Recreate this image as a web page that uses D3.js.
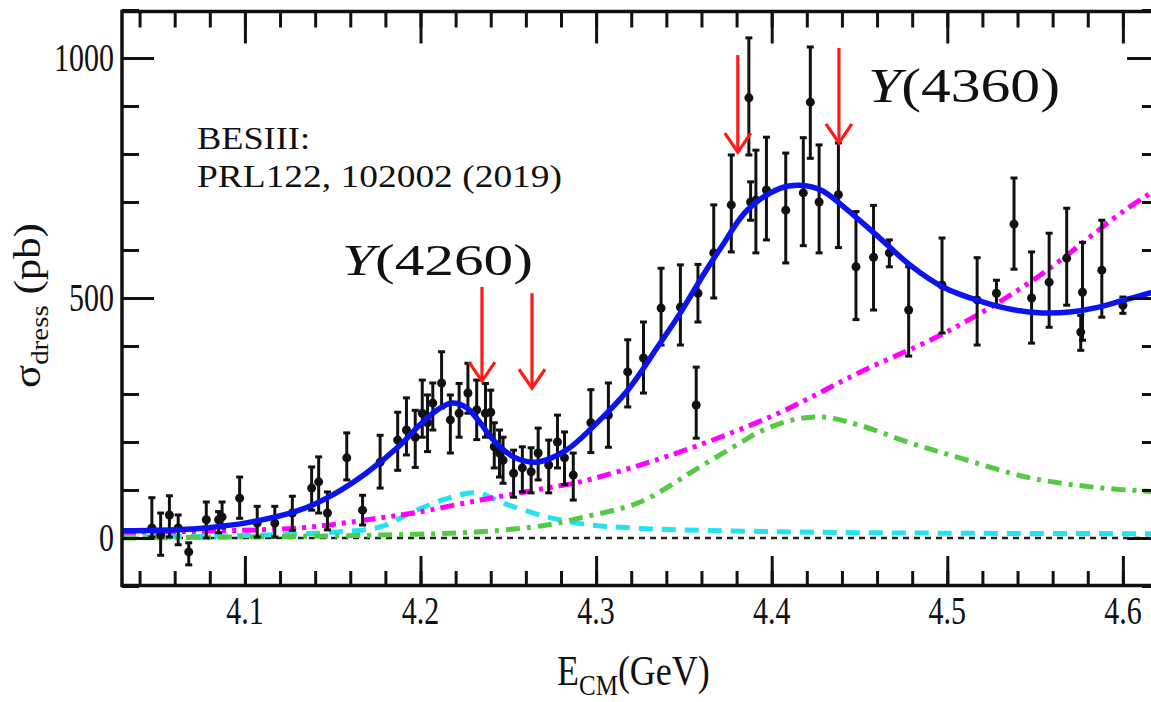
<!DOCTYPE html>
<html>
<head>
<meta charset="utf-8">
<script src="https://cdn.jsdelivr.net/npm/d3@7"></script>
<style>
  body { margin: 0; background: #fff; }
  svg { display: block; }
  text { font-family: "Liberation Serif", "Times New Roman", serif; fill: #111; }
</style>
</head>
<body>
<svg id="chart" width="1151" height="702"></svg>
<script>
// ---- measured cross sections (E_CM in GeV, sigma in pb, asymmetric errors) ----
const energy = [4.047,4.052,4.057,4.062,4.068,4.078,4.085,4.087,4.097,4.107,4.117,4.127,4.138,4.142,4.147,4.158,4.167,4.177,4.187,4.192,4.197,4.201,4.204,4.207,4.212,4.217,4.222,4.227,4.232,4.237,4.240,4.242,4.245,4.247,4.253,4.258,4.263,4.267,4.273,4.278,4.282,4.287,4.297,4.307,4.318,4.327,4.337,4.348,4.357,4.358,4.367,4.377,4.387,4.388,4.391,4.397,4.408,4.418,4.422,4.427,4.438,4.448,4.458,4.467,4.478,4.497,4.517,4.528,4.538,4.548,4.558,4.568,4.576,4.577,4.588,4.600];
const sigma  = [21,6,48,21,-29,38,38,44,83,31,31,52,104,117,52,167,58,158,204,225,210,260,240,281,323,246,260,302,267,260,262,190,177,162,135,146,138,177,152,200,167,131,240,256,346,375,479,481,277,510,594,694,917,700,704,725,683,719,908,700,715,565,585,594,475,527,496,510,654,500,533,583,429,512,558,485];
const errUp  = [63,46,40,27,19,37,17,31,44,35,35,35,44,52,44,52,31,56,58,67,56,69,58,42,65,52,62,62,62,62,46,50,48,48,48,44,50,52,52,56,54,46,69,67,67,75,83,88,79,60,100,104,125,42,104,110,119,115,115,119,108,115,108,27,90,98,88,27,96,96,102,104,35,104,104,17];
const errDn  = [19,42,46,35,27,38,27,23,42,29,29,36,46,65,35,46,31,54,63,52,63,50,60,56,52,69,50,42,62,50,48,44,50,48,50,50,44,56,58,54,56,52,62,67,73,73,77,79,69,60,94,98,119,38,110,104,110,110,117,106,110,110,110,29,96,100,94,25,94,94,94,98,38,100,98,17];

// ---- fit curves ----
const totalE = [4.030,4.074,4.103,4.131,4.150,4.169,4.188,4.200,4.210,4.218,4.226,4.234,4.241,4.253,4.266,4.283,4.298,4.318,4.335,4.348,4.361,4.372,4.386,4.405,4.416,4.428,4.441,4.460,4.479,4.498,4.520,4.537,4.554,4.570,4.585,4.600,4.620];
const totalS = [15,20,33,58,90,135,192,237,268,281,272,240,206,169,158,183,231,308,398,469,548,610,683,729,735,725,690,630,568,522,492,476,469,471,480,495,515];

const y4220E = [4.030,4.100,4.150,4.177,4.196,4.215,4.232,4.249,4.272,4.291,4.325,4.405,4.500,4.620];
const y4220S = [2,5,12,23,55,82,94,70,44,30,20,13,10,9];

const contE = [4.030,4.131,4.177,4.196,4.234,4.272,4.291,4.325,4.359,4.405,4.450,4.500,4.550,4.600,4.620];
const contS = [12,21,42,52,79,104,117,152,194,262,345,430,540,680,728];

const y4360E = [4.030,4.177,4.234,4.272,4.291,4.325,4.359,4.382,4.393,4.412,4.429,4.450,4.479,4.507,4.545,4.583,4.620];
const y4360S = [0,6,13,27,42,75,148,198,221,246,252,235,198,167,127,106,96];

// ---- markers for resonance windows ----
const arrowE   = [4.235, 4.2635, 4.3807, 4.4383];
const arrowTop = [523, 510, 1006, 1021];
const arrowTip = [327, 312, 804, 823];

// ---- tick labels ----
const xTickLabels = [4.1, 4.2, 4.3, 4.4, 4.5, 4.6];
const yTickLabels = [0, 500, 1000];

const svg = d3.select("#chart");
const x = d3.scaleLinear().domain([4.03, 4.62]).range([122, 1158]);
const y = d3.scaleLinear().domain([-100, 1100]).range([586, 10]);
const [xl, xr] = x.range();
const [yb, yt] = y.range();

svg.append("defs").append("clipPath").attr("id", "plot")
  .append("rect").attr("x", xl).attr("y", yt).attr("width", xr - xl).attr("height", yb - yt);

const plot = svg.append("g").attr("clip-path", "url(#plot)");

const line = d3.line()
  .x(d => x(d[0])).y(d => y(d[1]))
  .curve(d3.curveCatmullRom.alpha(0.5));

// zero line
plot.append("path")
  .attr("d", line([[4.03, 0], [4.62, 0]]))
  .attr("fill", "none").attr("stroke", "#222").attr("stroke-width", 2.5)
  .attr("stroke-dasharray", "6,5");

const curves = [
  { e: y4220E, s: y4220S, color: "#22e3ef", dash: "14,9" },
  { e: contE,  s: contS,  color: "#ff00ff", dash: "14,6,4,6,4,6" },
  { e: y4360E, s: y4360S, color: "#55c944", dash: "14,7,4,7" }
];
curves.forEach(c => {
  plot.append("path")
    .attr("d", line(c.e.map((v, i) => [v, c.s[i]])))
    .attr("fill", "none").attr("stroke", c.color).attr("stroke-width", 5)
    .attr("stroke-dasharray", c.dash);
});

// data points with error bars
const pts = energy.map((e, i) => ({ e, s: sigma[i], hi: sigma[i] + errUp[i], lo: sigma[i] - errDn[i] }));
const dg = plot.append("g").attr("stroke", "#111").attr("stroke-width", 3);
dg.selectAll("line.bar").data(pts).join("line").attr("class", "bar")
  .attr("x1", d => x(d.e)).attr("x2", d => x(d.e))
  .attr("y1", d => y(d.hi)).attr("y2", d => y(d.lo));
dg.selectAll("line.capT").data(pts).join("line").attr("class", "capT")
  .attr("x1", d => x(d.e) - 3.5).attr("x2", d => x(d.e) + 3.5)
  .attr("y1", d => y(d.hi)).attr("y2", d => y(d.hi));
dg.selectAll("line.capB").data(pts).join("line").attr("class", "capB")
  .attr("x1", d => x(d.e) - 3.5).attr("x2", d => x(d.e) + 3.5)
  .attr("y1", d => y(d.lo)).attr("y2", d => y(d.lo));
plot.append("g").selectAll("circle").data(pts).join("circle")
  .attr("cx", d => x(d.e)).attr("cy", d => y(d.s)).attr("r", 4.5).attr("fill", "#111");

// total fit
plot.append("path")
  .attr("d", line(totalE.map((v, i) => [v, totalS[i]])))
  .attr("fill", "none").attr("stroke", "#0a14f0").attr("stroke-width", 5.5);

// red arrows
const ag = svg.append("g").attr("stroke", "#ff1a1a").attr("stroke-width", 3.2).attr("fill", "none");
arrowE.forEach((e, i) => {
  const ax = x(e), y0 = y(arrowTop[i]), y1 = y(arrowTip[i]);
  ag.append("line").attr("x1", ax).attr("x2", ax).attr("y1", y0).attr("y2", y1);
  ag.append("path").attr("d", `M${ax - 13},${y1 - 19}L${ax},${y1}L${ax + 13},${y1 - 19}`);
});

// axes: ticks on all four sides, pointing inward
const xMinor = x.ticks(30);
const yMinor = y.ticks(12);
const yMajor = [0, 500, 1000];
function axisG(gen, tr) {
  const g = svg.append("g").attr("transform", tr).call(gen);
  g.select(".domain").remove();
  g.selectAll("line").attr("stroke", "#111").attr("stroke-width", 3);
  return g;
}
axisG(d3.axisBottom(x).tickValues(xMinor).tickSize(-15).tickFormat(""), `translate(0,${yb})`);
axisG(d3.axisBottom(x).tickValues(xTickLabels).tickSize(-30).tickFormat(""), `translate(0,${yb})`);
axisG(d3.axisTop(x).tickValues(xMinor).tickSize(-16).tickFormat(""), `translate(0,${yt + 1.5})`);
axisG(d3.axisTop(x).tickValues(xTickLabels).tickSize(-32).tickFormat(""), `translate(0,${yt + 1.5})`);
axisG(d3.axisLeft(y).tickValues(yMinor).tickSize(-17).tickFormat(""), `translate(${xl},0)`);
axisG(d3.axisLeft(y).tickValues(yMajor).tickSize(-32).tickFormat(""), `translate(${xl},0)`);
axisG(d3.axisRight(y).tickValues(yMinor).tickSize(-16).tickFormat(""), `translate(${xr},0)`);
axisG(d3.axisRight(y).tickValues(yMajor).tickSize(-31).tickFormat(""), `translate(${xr},0)`);

// frame
svg.append("rect").attr("x", xl).attr("y", yt + 1.5).attr("width", xr - xl).attr("height", yb - yt - 2)
  .attr("fill", "none").attr("stroke", "#111").attr("stroke-width", 3.5);

// tick labels (tall serif digits)
xTickLabels.forEach(v => {
  svg.append("text").attr("transform", `translate(${x(v)},624) scale(1,1.33)`)
    .attr("text-anchor", "middle").attr("font-size", 30).text(d3.format(".1f")(v));
});
yTickLabels.forEach(v => {
  svg.append("text").attr("transform", `translate(114,${y(v) + 13}) scale(1,1.3)`)
    .attr("text-anchor", "end").attr("font-size", 30).text(v);
});

// axis titles
const xt = svg.append("text").attr("transform", "translate(557,685) scale(1,1.2)").attr("font-size", 36);
xt.append("tspan").text("E");
xt.append("tspan").attr("font-size", 25).attr("dy", 8).text("CM");
xt.append("tspan").attr("dy", -8).text("(GeV)");

const yt2 = svg.append("text").attr("transform", "translate(40,388) rotate(-90) scale(1.16,1)").attr("font-size", 37);
yt2.append("tspan").text("σ");
yt2.append("tspan").attr("font-size", 25).attr("dy", 8).text("dress");
yt2.append("tspan").attr("dy", -8).text(" (pb)");

// annotations
svg.append("text").attr("x", 197).attr("y", 149).attr("font-size", 32)
  .attr("textLength", 113).attr("lengthAdjust", "spacingAndGlyphs").text("BESIII:");
svg.append("text").attr("x", 197).attr("y", 187).attr("font-size", 32)
  .attr("textLength", 365).attr("lengthAdjust", "spacingAndGlyphs").text("PRL122, 102002 (2019)");

function resLabel(px, py, fs, len, num) {
  const t = svg.append("text").attr("x", px).attr("y", py).attr("font-size", fs)
    .attr("textLength", len).attr("lengthAdjust", "spacingAndGlyphs");
  t.append("tspan").attr("font-style", "italic").text("Y");
  t.append("tspan").text(`(${num})`);
}
resLabel(342, 275, 45, 191, 4260);
resLabel(868, 102, 49, 192, 4360);
</script>
</body>
</html>
